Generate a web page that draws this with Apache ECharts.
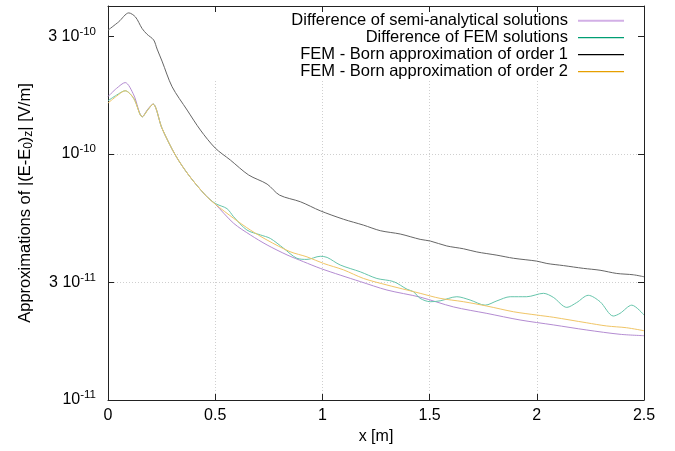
<!DOCTYPE html>
<html><head><meta charset="utf-8">
<script src="https://cdn.jsdelivr.net/npm/echarts@6/dist/echarts.min.js"></script>
<style>html,body{margin:0;padding:0;background:#fff}#c{width:675px;height:451px}</style>
</head><body><div id="c"></div>
<script>
const FONT = '"Liberation Sans", Arial, Helvetica, sans-serif';

const seriesNames = [
  'Difference of semi-analytical solutions',
  'Difference of FEM solutions',
  'FEM - Born approximation of order 1',
  'FEM - Born approximation of order 2'
];
const lineColors = ['#b48cd2', '#66c5ab', '#666666', '#f0c566'];
const keyColors = ['#d2afe6', '#009e73', '#000000', '#e69f00'];

// x in m, values in V/m
const semiX = [0, 0.04, 0.08, 0.12, 0.16, 0.185, 0.21, 0.252, 0.314, 0.376, 0.454, 0.5, 0.586, 0.664, 0.742, 0.835, 0.912, 0.99, 1.083, 1.177, 1.301, 1.456, 1.612, 1.767, 1.922, 2.077, 2.233, 2.388, 2.5];
const semiY = [1.713e-10, 1.85e-10, 1.953e-10, 1.74e-10, 1.418e-10, 1.52e-10, 1.597e-10, 1.272e-10, 9.91e-11, 8.22e-11, 6.81e-11, 6.26e-11, 5.23e-11, 4.69e-11, 4.27e-11, 3.89e-11, 3.65e-11, 3.43e-11, 3.22e-11, 3.03e-11, 2.80e-11, 2.62e-11, 2.39e-11, 2.25e-11, 2.115e-11, 2.02e-11, 1.926e-11, 1.85e-11, 1.826e-11];

const femX = [0, 0.04, 0.08, 0.12, 0.16, 0.185, 0.21, 0.252, 0.314, 0.376, 0.454, 0.5, 0.555, 0.586, 0.648, 0.711, 0.757, 0.819, 0.881, 0.928, 0.99, 1.022, 1.083, 1.177, 1.254, 1.332, 1.395, 1.425, 1.456, 1.503, 1.549, 1.627, 1.689, 1.759, 1.814, 1.876, 1.953, 2.031, 2.077, 2.14, 2.186, 2.24, 2.295, 2.357, 2.388, 2.443, 2.5];
const femY = [1.647e-10, 1.737e-10, 1.809e-10, 1.684e-10, 1.418e-10, 1.51e-10, 1.597e-10, 1.272e-10, 9.91e-11, 8.22e-11, 6.81e-11, 6.3e-11, 6.0e-11, 5.56e-11, 4.91e-11, 4.69e-11, 4.54e-11, 4.14e-11, 3.77e-11, 3.73e-11, 3.84e-11, 3.80e-11, 3.54e-11, 3.32e-11, 3.12e-11, 3.03e-11, 2.82e-11, 2.755e-11, 2.59e-11, 2.51e-11, 2.53e-11, 2.63e-11, 2.55e-11, 2.43e-11, 2.53e-11, 2.63e-11, 2.63e-11, 2.715e-11, 2.615e-11, 2.38e-11, 2.49e-11, 2.665e-11, 2.51e-11, 2.195e-11, 2.25e-11, 2.43e-11, 2.215e-11];

const born1X = [0, 0.05, 0.097, 0.128, 0.159, 0.182, 0.213, 0.229, 0.252, 0.299, 0.369, 0.431, 0.5, 0.571, 0.656, 0.742, 0.80, 0.897, 0.99, 1.099, 1.192, 1.27, 1.363, 1.456, 1.503, 1.58, 1.658, 1.72, 1.814, 1.891, 2.0, 2.047, 2.124, 2.217, 2.295, 2.373, 2.45, 2.5];
const born1Y = [3.19e-10, 3.45e-10, 3.75e-10, 3.61e-10, 3.24e-10, 3.07e-10, 2.91e-10, 2.673e-10, 2.388e-10, 1.878e-10, 1.51e-10, 1.252e-10, 1.058e-10, 9.45e-11, 8.22e-11, 7.55e-11, 6.81e-11, 6.40e-11, 5.88e-11, 5.43e-11, 5.14e-11, 4.88e-11, 4.73e-11, 4.50e-11, 4.43e-11, 4.23e-11, 4.12e-11, 4.00e-11, 3.88e-11, 3.77e-11, 3.67e-11, 3.59e-11, 3.52e-11, 3.43e-11, 3.37e-11, 3.27e-11, 3.23e-11, 3.17e-11];

const born2X = [0, 0.04, 0.08, 0.12, 0.16, 0.185, 0.21, 0.252, 0.314, 0.376, 0.454, 0.5, 0.586, 0.664, 0.742, 0.849, 0.928, 1.006, 1.099, 1.192, 1.301, 1.395, 1.456, 1.549, 1.658, 1.767, 1.891, 2.0, 2.077, 2.233, 2.326, 2.419, 2.5];
const born2Y = [1.612e-10, 1.72e-10, 1.809e-10, 1.684e-10, 1.418e-10, 1.51e-10, 1.597e-10, 1.272e-10, 9.91e-11, 8.22e-11, 6.81e-11, 6.26e-11, 5.48e-11, 4.91e-11, 4.47e-11, 4.01e-11, 3.82e-11, 3.59e-11, 3.38e-11, 3.12e-11, 2.935e-11, 2.80e-11, 2.715e-11, 2.59e-11, 2.51e-11, 2.41e-11, 2.285e-11, 2.215e-11, 2.17e-11, 2.06e-11, 2.00e-11, 1.967e-11, 1.913e-11];

const xMin = 0, xMax = 2.5, xStep = 0.5;
const yMin = 1e-11, yMax = 4e-10;
const yTicks = [1e-11, 3e-11, 1e-10, 3e-10];
const yTickMant = ['', '3 ', '', '3 '];
const yTickExp = ['-11', '-11', '-10', '-10'];

const xs = [semiX, femX, born1X, born2X];
const ys = [semiY, femY, born1Y, born2Y];

function yLabel(v) {
  for (let i = 0; i < yTicks.length; i++) {
    if (Math.abs(Math.log10(v) - Math.log10(yTicks[i])) < 1e-4) {
      return '{b|' + yTickMant[i] + '10}{s|' + yTickExp[i] + '}';
    }
  }
  return '';
}

const chart = echarts.init(document.getElementById('c'), null, {renderer: 'canvas'});
const axisColor = '#222';
const gridLine = {show: true, showMinLine: false, showMaxLine: false, lineStyle: {color: '#cfcfcf', width: 1, type: [1, 2]}};

chart.setOption({
  animation: false,
  backgroundColor: '#fff',
  textStyle: {fontFamily: FONT},
  grid: {left: 108, right: 31, top: 6, bottom: 51, containLabel: false},
  graphic: [{
    type: 'rect', z: 1, silent: true,
    shape: {x: 177, y: 7, width: 466, height: 72},
    style: {fill: '#fff'}
  }],
  legend: {
    orient: 'vertical', align: 'right', right: 51, top: 12.2, padding: 0,
    itemGap: 0, itemWidth: 46, itemHeight: 10,
    selectedMode: false,
    textStyle: {fontFamily: FONT, fontSize: 16.5, color: '#000', lineHeight: 16.7, padding: [0, 5, 0, 0]},
    data: seriesNames.map((n, i) => ({
      name: n,
      icon: i === 0 ? 'path://M0,0H46V2H0Z' : 'path://M0,0H46V1.2H0Z',
      itemStyle: {color: keyColors[i], borderWidth: 0}
    }))
  },
  xAxis: [{
    type: 'value', min: xMin, max: xMax, interval: xStep, z: 0,
    axisLine: {show: true, onZero: false, lineStyle: {color: axisColor, width: 1}},
    axisTick: {show: true, inside: true, length: 6, lineStyle: {color: axisColor}},
    axisLabel: {fontFamily: FONT, fontSize: 16, color: '#000', margin: 8},
    splitLine: gridLine,
    name: 'x [m]', nameLocation: 'middle', nameGap: 29,
    nameTextStyle: {fontFamily: FONT, fontSize: 16, color: '#000'}
  }, {
    type: 'value', position: 'top', min: xMin, max: xMax, interval: xStep, z: 3,
    axisLine: {show: true, onZero: false, lineStyle: {color: axisColor, width: 1}},
    axisTick: {show: true, inside: true, length: 6, lineStyle: {color: axisColor}},
    axisLabel: {show: false}, splitLine: {show: false}
  }],
  yAxis: [{
    type: 'log', logBase: 10, min: yMin, max: yMax, z: 0,
    axisLine: {show: true, onZero: false, lineStyle: {color: axisColor, width: 1}},
    axisTick: {show: true, inside: true, length: 6, customValues: yTicks, lineStyle: {color: axisColor}},
    minorTick: {show: false},
    axisLabel: {
      customValues: yTicks, formatter: yLabel, margin: 12, color: '#000',
      rich: {
        b: {fontFamily: FONT, fontSize: 16, color: '#000'},
        s: {fontFamily: FONT, fontSize: 11.5, color: '#000', padding: [0, 0, 10, 0]}
      }
    },
    splitLine: gridLine,
    name: 'Approximations of |(E-E{sub|0})' + '{sub|z}| [V/m]',
    nameLocation: 'middle', nameGap: 73, nameRotate: 90,
    nameTextStyle: {
      fontFamily: FONT, fontSize: 16.5, color: '#000',
      rich: {sub: {fontFamily: FONT, fontSize: 12, color: '#000', padding: [8, 0, 0, 0]}}
    }
  }, {
    type: 'log', logBase: 10, min: yMin, max: yMax, position: 'right', z: 3,
    axisLine: {show: true, onZero: false, lineStyle: {color: axisColor, width: 1}},
    axisTick: {show: true, inside: true, length: 6, customValues: yTicks, lineStyle: {color: axisColor}},
    minorTick: {show: false},
    axisLabel: {show: false}, splitLine: {show: false}
  }],
  series: seriesNames.map((n, i) => ({
    name: n, type: 'line', xAxisIndex: 0, yAxisIndex: 0,
    smooth: 0.3, symbol: 'none', showSymbol: false, z: 2,
    color: keyColors[i],
    lineStyle: {color: lineColors[i], width: 1},
    emphasis: {disabled: true},
    data: xs[i].map((x, k) => [x, ys[i][k]])
  }))
});
</script>
</body></html>
